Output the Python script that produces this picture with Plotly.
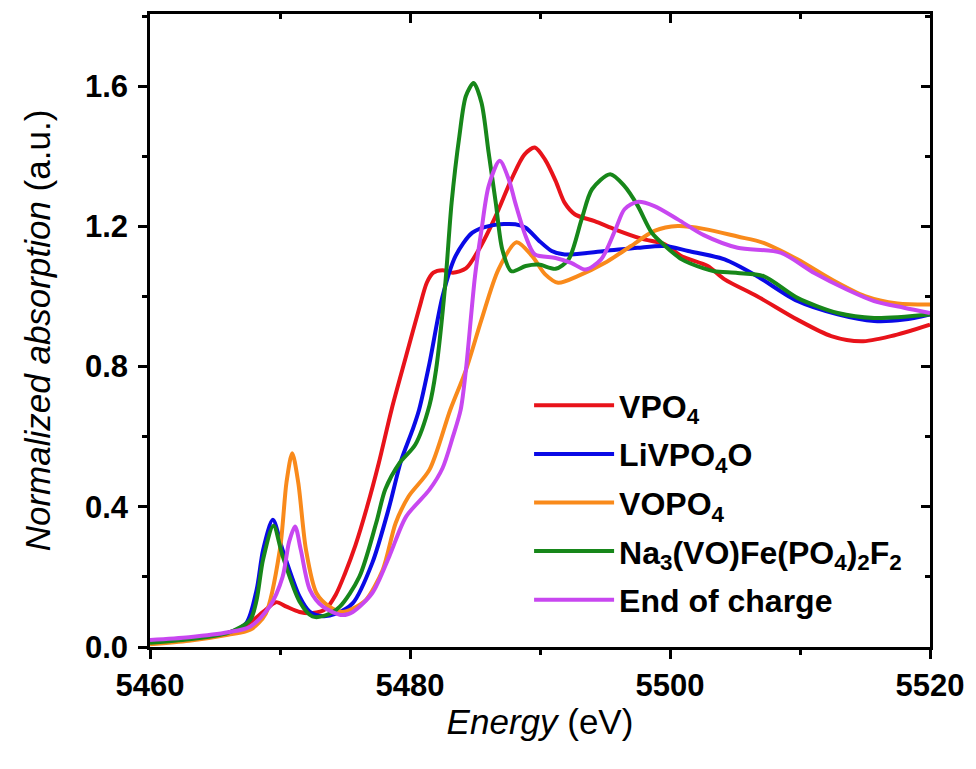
import plotly.graph_objects as go

# ---------------- data ----------------
vpo4_e = [5460, 5463, 5466, 5467.5, 5468.7, 5469.7, 5470.5, 5471.5, 5472.5, 5473.5, 5474.3, 5475,
          5475.8, 5476.7, 5477.6, 5478.6, 5479.7, 5480.7, 5481.3, 5481.8, 5482.5, 5483.3, 5484.3,
          5485.3, 5486.6, 5487.8, 5488.8, 5489.6, 5490.4, 5491.2, 5491.9, 5492.7, 5494.2, 5495.8,
          5497.8, 5499.6, 5500.9, 5502.9, 5504.2, 5506.7, 5509.8, 5512.4, 5514.7, 5517, 5520]
vpo4_v = [0.015, 0.025, 0.04, 0.065, 0.10, 0.128, 0.115, 0.10, 0.097, 0.108, 0.15, 0.21,
          0.29, 0.40, 0.525, 0.68, 0.83, 0.965, 1.04, 1.068, 1.075, 1.068, 1.08,
          1.134, 1.23, 1.334, 1.405, 1.425, 1.39, 1.33, 1.267, 1.234, 1.215, 1.191,
          1.165, 1.149, 1.115, 1.087, 1.049, 1.001, 0.934, 0.887, 0.872, 0.887, 0.92]

livpo4o_e = [5460, 5463, 5466, 5467.4, 5468.2, 5468.7, 5469.45, 5470.2, 5471.5, 5472.3, 5473.3,
             5474.3, 5475.6, 5477.1, 5478.4, 5479.3, 5480.2, 5480.7, 5481.5, 5482.5, 5483.5,
             5484.8, 5486.3, 5488.1, 5488.9, 5489.9, 5490.9, 5491.9, 5495, 5497.5, 5499.6,
             5501.4, 5504.2, 5506.7, 5509.8, 5512.9, 5515.7, 5518, 5520]
livpo4o_v = [0.015, 0.025, 0.04, 0.068, 0.163, 0.277, 0.363, 0.277, 0.144, 0.10, 0.088,
             0.095, 0.125, 0.24, 0.40, 0.53, 0.62, 0.677, 0.81, 1.0, 1.115,
             1.182, 1.203, 1.206, 1.196, 1.16, 1.13, 1.12, 1.13, 1.139, 1.144,
             1.13, 1.106, 1.058, 0.987, 0.949, 0.93, 0.934, 0.949]

vopo4_e = [5460, 5463, 5466, 5467.7, 5468.9, 5470, 5470.5, 5470.94, 5471.4, 5472, 5472.8, 5473.8,
           5474.8, 5475.6, 5476.6, 5477.9, 5478.9, 5479.9, 5481.5, 5483.1, 5484.3, 5485.5,
           5486.8, 5488.2, 5489.4, 5490.4, 5491.4, 5492.9, 5495, 5497, 5498.8, 5500.6, 5502.6,
           5505.2, 5507.2, 5509.8, 5512.4, 5515, 5517.5, 5520]
vopo4_v = [0.008, 0.018, 0.035, 0.049, 0.095, 0.28, 0.47, 0.553, 0.47, 0.277, 0.154, 0.115,
           0.10, 0.11, 0.134, 0.22, 0.354, 0.43, 0.506, 0.677, 0.79, 0.934,
           1.077, 1.155, 1.115, 1.063, 1.039, 1.058, 1.096, 1.144, 1.187, 1.201, 1.193,
           1.171, 1.153, 1.106, 1.049, 1.001, 0.98, 0.977]

navofe_e = [5460, 5463, 5466, 5467.7, 5468.2, 5468.7, 5469.5, 5470.2, 5471.5, 5472.5, 5473.5,
            5474.6, 5476.1, 5477.4, 5478.1, 5479.2, 5480.4, 5481.5, 5482, 5482.7, 5483.2, 5483.8,
            5484.3, 5484.9, 5485.5, 5486.05, 5486.6, 5487.1, 5487.8, 5488.9, 5489.9, 5491.2,
            5492.2, 5493.2, 5494, 5495.4, 5496.5, 5497.5, 5498.6, 5499.6, 5500.9, 5502.6,
            5503.4, 5505.2, 5507.2, 5509.8, 5512.9, 5515.7, 5520]
navofe_v = [0.012, 0.022, 0.04, 0.077, 0.134, 0.25, 0.346, 0.26, 0.13, 0.087, 0.09,
            0.115, 0.20, 0.354, 0.45, 0.525, 0.577, 0.69, 0.79, 1.03, 1.267, 1.458,
            1.572, 1.609, 1.553, 1.41, 1.267, 1.134, 1.072, 1.087, 1.091, 1.079,
            1.106, 1.22, 1.306, 1.349, 1.315, 1.26, 1.182, 1.145, 1.106, 1.08,
            1.072, 1.067, 1.058, 0.996, 0.953, 0.939, 0.949]

eoc_e = [5460, 5463, 5466, 5467.7, 5469.2, 5470.2, 5470.7, 5471.16, 5471.6, 5472.3, 5473.3,
         5474.8, 5475.6, 5477.1, 5478.4, 5479.7, 5481.5, 5482.5, 5483.3, 5483.9, 5484.3, 5485.0,
         5485.5, 5486.05, 5486.9, 5487.6, 5488.1, 5488.9, 5489.6, 5491.2, 5492.4, 5493.5,
         5494.7, 5495.8, 5496.5, 5497.5, 5498.8, 5500.6, 5502.6, 5505.2, 5508.5, 5511.1,
         5513.6, 5515.7, 5518, 5520]
eoc_v = [0.02, 0.028, 0.042, 0.058, 0.115, 0.20, 0.30, 0.344, 0.277, 0.163, 0.115,
         0.091, 0.10, 0.154, 0.258, 0.372, 0.449, 0.51, 0.60, 0.677, 0.79, 1.058,
         1.19, 1.315, 1.387, 1.334, 1.267, 1.172, 1.12, 1.11, 1.096, 1.077,
         1.106, 1.191, 1.249, 1.27, 1.258, 1.22, 1.175, 1.139, 1.125, 1.067,
         1.02, 0.987, 0.968, 0.953]

series = [
    ("VPO<sub>4</sub>", vpo4_e, vpo4_v, "#E8131A"),
    ("LiVPO<sub>4</sub>O", livpo4o_e, livpo4o_v, "#0A0AE6"),
    ("VOPO<sub>4</sub>", vopo4_e, vopo4_v, "#F98A1B"),
    ("Na<sub>3</sub>(VO)Fe(PO<sub>4</sub>)<sub>2</sub>F<sub>2</sub>", navofe_e, navofe_v, "#17871A"),
    ("End of charge", eoc_e, eoc_v, "#C847F0"),
]

x_range = [5460, 5520]
y_range = [0, 1.806]
x_ticks = [5460, 5480, 5500, 5520]
y_ticks = [0.0, 0.4, 0.8, 1.2, 1.6]
y_tick_text = ["0.0", "0.4", "0.8", "1.2", "1.6"]

# ---------------- figure ----------------
fig = go.Figure()
for i, (name, e, v, c) in enumerate(series):
    fig.add_trace(go.Scatter(x=e, y=v, mode="lines", name=name, legendgroup=f"g{i}",
                             line=dict(color=c, width=4, shape="spline", smoothing=0.8)))

# invisible trace so that the mirrored top / right frame axes are drawn
fig.add_trace(go.Scatter(x=[x_range[0]], y=[y_range[0]], xaxis="x2", yaxis="y2", mode="markers",
                         marker=dict(opacity=0), showlegend=False, hoverinfo="skip"))

tick_font = dict(family="Liberation Sans, Arial, sans-serif", size=31, color="black")
title_font = dict(family="Liberation Sans, Arial, sans-serif", size=35, color="black")

line_style = dict(showgrid=False, zeroline=False, showline=True, linecolor="black", linewidth=2.6,
                  ticklen=9, tickwidth=2.6, tickcolor="black")

fig.update_layout(
    width=976, height=769,
    margin=dict(l=150, r=43, t=14, b=122),
    plot_bgcolor="white", paper_bgcolor="white",
    xaxis=dict(range=x_range, tickvals=x_ticks, ticktext=[f"<b>{t}</b>" for t in x_ticks],
               tickfont=tick_font, ticks="outside",
               minor=dict(dtick=10, ticks="outside", ticklen=5, tickwidth=2.6, tickcolor="black"),
               title=dict(text="<i>Energy</i> (eV)", font=title_font, standoff=8),
               **line_style),
    yaxis=dict(range=y_range, tickvals=y_ticks, ticktext=[f"<b>{t}</b>" for t in y_tick_text],
               tickfont=tick_font, ticks="outside", ticklabelstandoff=4,
               minor=dict(dtick=0.2, ticks="outside", ticklen=5, tickwidth=2.6, tickcolor="black"),
               title=dict(text="<i>Normalized absorption</i> (a.u.)", font=title_font, standoff=24),
               **line_style),
    xaxis2=dict(overlaying="x", side="top", matches="x", range=x_range,
                ticks="inside", tickvals=x_ticks, showticklabels=False,
                minor=dict(dtick=10, ticks="inside", ticklen=5, tickwidth=2.6, tickcolor="black"),
                **line_style),
    yaxis2=dict(overlaying="y", side="right", matches="y", range=y_range,
                ticks="inside", tickvals=y_ticks, showticklabels=False,
                minor=dict(dtick=0.2, ticks="inside", ticklen=5, tickwidth=2.6, tickcolor="black"),
                **line_style),
    legend=dict(x=0.486, y=0.425, xanchor="left", yanchor="top", bgcolor="rgba(0,0,0,0)",
                font=dict(family="Liberation Sans, Arial, sans-serif", size=32, color="black",
                          weight="bold"),
                itemwidth=80, tracegroupgap=4),
    showlegend=True,
)

fig.write_html("out.html")
